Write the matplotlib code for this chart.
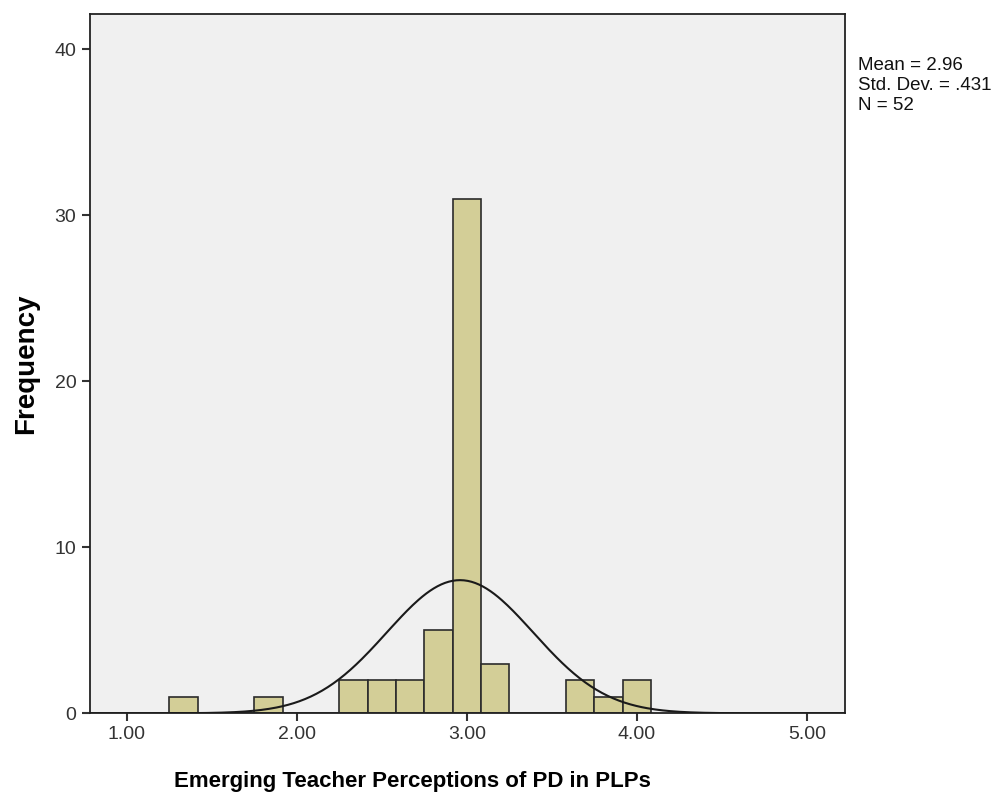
import numpy as np
import matplotlib.pyplot as plt

plt.rcParams['font.family'] = ['Liberation Sans', 'DejaVu Sans']

# histogram bins (left edges, width 1/6) and counts
bin_start = 1.25
bin_width = 1.0 / 6.0
counts = [1, 0, 0, 1, 0, 0, 2, 2, 2, 5, 31, 3, 0, 0, 2, 1, 2]

mean = 2.96
std = 0.431
n = 52

x_ticks = [1.0, 2.0, 3.0, 4.0, 5.0]
x_tick_labels = ["1.00", "2.00", "3.00", "4.00", "5.00"]
y_ticks = [0, 10, 20, 30, 40]

fig = plt.figure(figsize=(9.97, 7.96), dpi=100)
ax = fig.add_axes([0.0898, 0.1039, 0.7578, 0.8785])
ax.set_facecolor('#f0f0f0')

lefts = bin_start + bin_width * np.arange(len(counts))
ax.bar(lefts, counts, width=bin_width, align='edge', color='#d3ce97',
       edgecolor='#2b2b2b', linewidth=1.2, zorder=2)

# normal curve scaled to counts
xs = np.linspace(0.78, 5.22, 400)
ys = n * bin_width / (std * np.sqrt(2 * np.pi)) * np.exp(-0.5 * ((xs - mean) / std) ** 2)
ax.plot(xs, ys, color='#1a1a1a', linewidth=1.5, zorder=3)

ax.set_xlim(0.781, 5.225)
ax.set_ylim(0, 42.13)
ax.set_xticks(x_ticks)
ax.set_xticklabels(x_tick_labels)
ax.set_yticks(y_ticks)
ax.tick_params(axis='both', labelsize=14, length=6, width=1.5, color='#333333',
               labelcolor='#333333')
for s in ax.spines.values():
    s.set_linewidth(1.3)
    s.set_color('#222222')

ax.set_xlabel("Emerging Teacher Perceptions of PD in PLPs", fontsize=16,
              fontweight='bold')
ax.xaxis.set_label_coords(0.427, -0.082)
ax.set_ylabel("Frequency", fontsize=20, fontweight='bold', labelpad=11)

fig.text(0.861, 0.929, "Mean = 2.96\nStd. Dev. = .431\nN = 52", fontsize=13.5,
         va='top', ha='left', linespacing=1.25, color='#111111')

fig.savefig("out.png", dpi=100)
